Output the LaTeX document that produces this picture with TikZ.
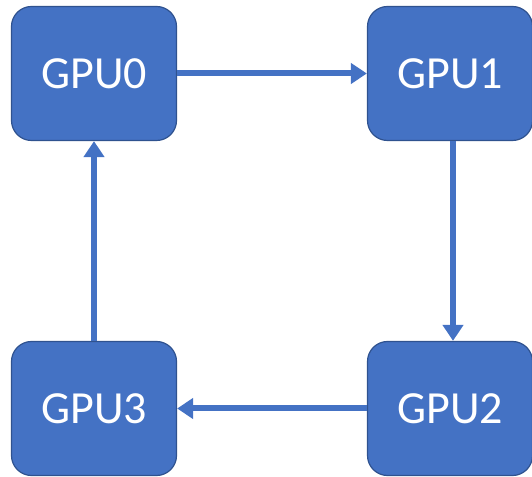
\documentclass[tikz,border=0pt]{standalone}
\usepackage{fontspec}
\setmainfont{Carlito}
\usetikzlibrary{arrows.meta}
\definecolor{boxfill}{HTML}{4472C4}
\definecolor{boxline}{HTML}{2F528F}
\tikzset{
  gpubox/.style={draw=boxline, line width=1.2pt, fill=boxfill, rounded corners=20pt,
    minimum width=165pt, minimum height=134pt, inner sep=0pt,
    text=white, font=\fontsize{46}{50}\selectfont},
  link/.style={draw=boxfill, line width=6pt, -{Triangle[length=16pt,width=20pt]}}
}
\begin{document}
\begin{tikzpicture}[x=1pt,y=1pt]
\useasboundingbox (0,0) rectangle (532,476);
\node[gpubox] (g0) at (94,402.5) {\raisebox{-3pt}{GPU0}};
\node[gpubox] (g1) at (450,402.5) {\raisebox{-3pt}{GPU1}};
\node[gpubox] (g2) at (450,67.5) {\raisebox{-3pt}{GPU2}};
\node[gpubox] (g3) at (94,67.5) {\raisebox{-3pt}{GPU3}};
\draw[link] (g0.east) -- (g1.west);
\draw[link] ([xshift=3pt]g1.south) -- ([xshift=3pt]g2.north);
\draw[link] (g2.west) -- (g3.east);
\draw[link] (g3.north) -- (g0.south);
\end{tikzpicture}
\end{document}
